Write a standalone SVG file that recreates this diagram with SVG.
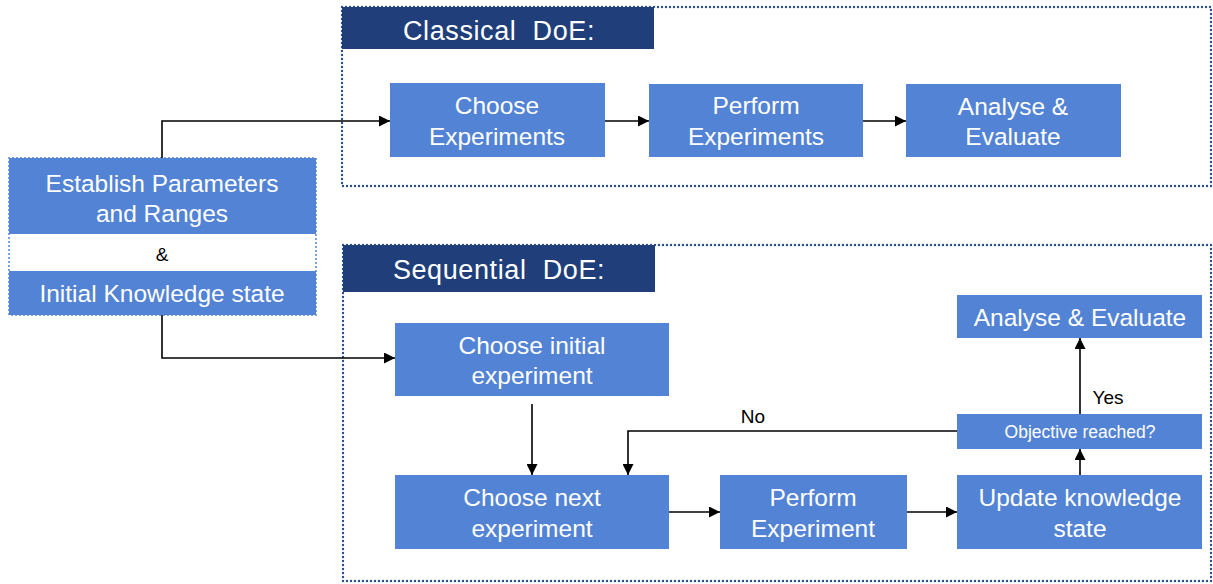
<svg xmlns="http://www.w3.org/2000/svg" width="1213" height="584" viewBox="0 0 1213 584">
<style>
.box{fill:#5383D5}
.hdr{fill:#203F7A}
.t{font-family:"Liberation Sans",Arial,sans-serif;fill:#fff;text-anchor:middle}
.m{font-size:24.5px}
.h{font-size:27px;letter-spacing:0.6px}
.s{font-size:17.5px}
.k{font-family:"Liberation Sans",Arial,sans-serif;fill:#000;font-size:19px;text-anchor:middle}
.cont{fill:none;stroke:#2E4E8C;stroke-width:2.4;stroke-dasharray:0 4;stroke-linecap:round}
.cn{fill:none;stroke:#000;stroke-width:1.6}
</style>
<defs>
<marker id="ar" viewBox="0 0 10 10" refX="10" refY="5" markerWidth="11" markerHeight="11" markerUnits="userSpaceOnUse" orient="auto">
<path d="M0,0 L10,5 L0,10 z" fill="#000"/>
</marker>
</defs>
<rect class="cont" x="342" y="7" width="869" height="179"/>
<rect class="cont" x="343" y="245" width="868" height="336"/>
<g id="classical-header"><rect class="hdr" x="342" y="7" width="312" height="42"/><text class="t h" x="499" y="40" xml:space="preserve">Classical  DoE:</text></g>
<g id="sequential-header"><rect class="hdr" x="343" y="245" width="312" height="47"/><text class="t h" x="499" y="279" xml:space="preserve">Sequential  DoE:</text></g>
<g id="establish">
<rect x="9" y="158" width="307" height="157" fill="#fff" stroke="#5383D5" stroke-width="2" stroke-dasharray="0 4" stroke-linecap="round"/>
<rect class="box" x="9" y="158" width="307" height="76"/>
<rect class="box" x="9" y="271" width="307" height="44"/>
<text class="t m" x="162" y="192">Establish Parameters</text>
<text class="t m" x="162" y="222">and Ranges</text>
<text class="k" x="162" y="261">&amp;</text>
<text class="t m" x="162" y="302">Initial Knowledge state</text>
</g>
<g id="c-choose"><rect class="box" x="390" y="83" width="215" height="74"/><text class="t m" x="497" y="114">Choose</text><text class="t m" x="497" y="145">Experiments</text></g>
<g id="c-perform"><rect class="box" x="649" y="84" width="214" height="73"/><text class="t m" x="756" y="114">Perform</text><text class="t m" x="756" y="145">Experiments</text></g>
<g id="c-analyse"><rect class="box" x="906" y="84" width="215" height="73"/><text class="t m" x="1013" y="115">Analyse &amp;</text><text class="t m" x="1013" y="145">Evaluate</text></g>
<g id="s-initial"><rect class="box" x="395" y="323" width="274" height="73"/><text class="t m" x="532" y="354">Choose initial</text><text class="t m" x="532" y="384">experiment</text></g>
<g id="s-next"><rect class="box" x="395" y="475" width="274" height="74"/><text class="t m" x="532" y="506">Choose next</text><text class="t m" x="532" y="537">experiment</text></g>
<g id="s-perform"><rect class="box" x="720" y="475" width="187" height="74"/><text class="t m" x="813" y="506">Perform</text><text class="t m" x="813" y="537">Experiment</text></g>
<g id="s-update"><rect class="box" x="957" y="475" width="245" height="74"/><text class="t m" x="1080" y="506">Update knowledge</text><text class="t m" x="1080" y="537">state</text></g>
<g id="s-objective"><rect class="box" x="957" y="414" width="245" height="35"/><text class="t s" x="1080" y="438">Objective reached?</text></g>
<g id="s-analyse"><rect class="box" x="957" y="295" width="245" height="43"/><text class="t m" x="1080" y="326">Analyse &amp; Evaluate</text></g>
<g id="connectors">
<path class="cn" d="M162,158 V121 H390" marker-end="url(#ar)"/>
<path class="cn" d="M162,315 V358 H395" marker-end="url(#ar)"/>
<path class="cn" d="M605,121 H649" marker-end="url(#ar)"/>
<path class="cn" d="M863,121 H906" marker-end="url(#ar)"/>
<path class="cn" d="M532,404 V475" marker-end="url(#ar)"/>
<path class="cn" d="M669,512 H720" marker-end="url(#ar)"/>
<path class="cn" d="M907,512 H957" marker-end="url(#ar)"/>
<path class="cn" d="M1080,475 V449" marker-end="url(#ar)"/>
<path class="cn" d="M1080,414 V338" marker-end="url(#ar)"/>
<path class="cn" d="M957,431 H628 V475" marker-end="url(#ar)"/>
<text class="k" x="753" y="423">No</text>
<text class="k" x="1108" y="404">Yes</text>
</g>
</svg>
